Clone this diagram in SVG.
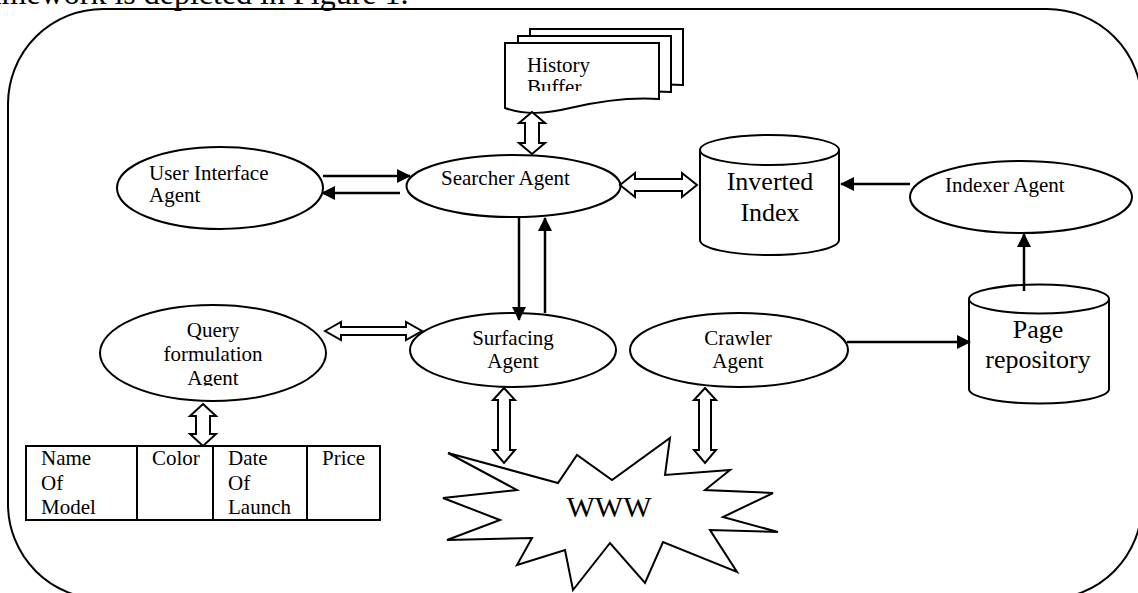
<svg xmlns="http://www.w3.org/2000/svg" width="1138" height="593" viewBox="0 0 1138 593">
<style>
text{font-family:"Liberation Serif","Times New Roman",serif;fill:#000}
.lbl{font-size:21px}
.big{font-size:26px}
.sh{fill:#fff;stroke:#000;stroke-width:2}
.ha{fill:#fff;stroke:#000;stroke-width:2;stroke-linejoin:miter}
.ar{stroke:#000;stroke-width:2.5;fill:none;marker-end:url(#ah)}
.c{text-anchor:middle}
</style>
<defs>
<marker id="ah" viewBox="0 0 14 14" refX="13" refY="7" markerWidth="14" markerHeight="14" markerUnits="userSpaceOnUse" orient="auto"><path d="M0,0 L14,7 L0,14 Z" fill="#000"/></marker>
<clipPath id="cBuf"><rect x="500" y="40" width="160" height="51"/></clipPath>
<clipPath id="cQry"><rect x="100" y="300" width="230" height="86"/></clipPath>
</defs>
<rect width="1138" height="593" fill="#fff"/>
<text x="-34" y="4" style="font-size:32px">framework is depicted in Figure 1.</text>
<rect id="frame" x="8" y="9" width="1134" height="590" rx="95" ry="95" fill="none" stroke="#000" stroke-width="2"/>

<g id="history-buffer">
<path class="sh" d="M530,29 H683 V85 C655,83 640,86 630,88 L530,88 Z"/>
<path class="sh" d="M518,36 H671 V92 C645,90 630,93 620,95 L518,95 Z"/>
<path class="sh" d="M505,43 H659 V99 C630,97 600,101 570,108 C545,114 525,115 505,108 Z"/>
<g clip-path="url(#cBuf)">
<text class="lbl" x="527" y="72">History</text>
<text class="lbl" x="527" y="94">Buffer</text>
</g>
</g>

<g id="user-interface-agent">
<ellipse class="sh" cx="220" cy="188" rx="103" ry="41"/>
<text class="lbl" x="149" y="180">User Interface</text>
<text class="lbl" x="149" y="202">Agent</text>
</g>

<g id="searcher-agent">
<ellipse class="sh" cx="513.5" cy="186" rx="107" ry="31"/>
<text class="lbl" x="441" y="185">Searcher Agent</text>
</g>

<g id="inverted-index">
<path class="sh" d="M700,150 V240 A69.5,15 0 0 0 839,240 V150"/>
<ellipse class="sh" cx="769.5" cy="150" rx="69.5" ry="15"/>
<text class="big c" x="770" y="190">Inverted</text>
<text class="big c" x="770" y="221">Index</text>
</g>

<g id="indexer-agent">
<ellipse class="sh" cx="1021" cy="197" rx="111" ry="36"/>
<text class="lbl" x="945" y="192">Indexer Agent</text>
</g>

<g id="page-repository">
<path class="sh" d="M969,299 V389 A70,14.5 0 0 0 1109,389 V299"/>
<ellipse class="sh" cx="1039" cy="299" rx="70" ry="14.5"/>
<text class="big c" x="1038" y="338">Page</text>
<text class="big c" x="1038" y="368">repository</text>
</g>

<g id="query-formulation-agent">
<ellipse class="sh" cx="213" cy="353" rx="113" ry="48"/>
<g clip-path="url(#cQry)">
<text class="lbl c" x="213" y="337">Query</text>
<text class="lbl c" x="213" y="361">formulation</text>
<text class="lbl c" x="213" y="385">Agent</text>
</g>
</g>

<g id="surfacing-agent">
<ellipse class="sh" cx="513" cy="350" rx="103" ry="37"/>
<text class="lbl c" x="513" y="345">Surfacing</text>
<text class="lbl c" x="513" y="368">Agent</text>
</g>

<g id="crawler-agent">
<ellipse class="sh" cx="739" cy="350" rx="109" ry="37"/>
<text class="lbl c" x="738" y="345">Crawler</text>
<text class="lbl c" x="738" y="368">Agent</text>
</g>

<g id="www">
<polygon class="sh" points="448,453 558,483 577,455 612,480 670,438 665,475 730,470 705,490 773,493 723,517 778,532 710,530 737,572 663,542 645,583 610,543 573,590 565,550 517,565 532,538 447,540 500,520 443,498 517,490"/>
<text class="c" x="609" y="517" style="font-size:30px">WWW</text>
</g>

<g id="product-table">
<rect x="26" y="446" width="354" height="74" fill="#fff" stroke="#000" stroke-width="2"/>
<path d="M137,446 V520 M213,446 V520 M307,446 V520" stroke="#000" stroke-width="2"/>
<text class="lbl" x="41" y="465">Name</text>
<text class="lbl" x="41" y="490">Of</text>
<text class="lbl" x="41" y="514">Model</text>
<text class="lbl" x="152" y="465">Color</text>
<text class="lbl" x="228" y="465">Date</text>
<text class="lbl" x="228" y="490">Of</text>
<text class="lbl" x="228" y="514">Launch</text>
<text class="lbl" x="322" y="465">Price</text>
</g>

<g id="connectors">
<polygon class="ha" points="532,112 545,123 539,123 539,143 545,143 532,154 519,143 525,143 525,123 519,123"/>
<polygon class="ha" points="620,185 635,173 635,179 682,179 682,173 697,185 682,197 682,191 635,191 635,197"/>
<polygon class="ha" points="325,331 341,322 341,327 406,327 406,322 422,331 406,340 406,335 341,335 341,340"/>
<polygon class="ha" points="203,404 216,416 210,416 210,434 216,434 203,446 190,434 196,434 196,416 190,416"/>
<polygon class="ha" points="504,388 515,400 510,400 510,450 515,450 504,463 493,450 498,450 498,400 493,400"/>
<polygon class="ha" points="705,388 716,400 711,400 711,450 716,450 705,463 694,450 699,450 699,400 694,400"/>
<line class="ar" x1="323" y1="176" x2="410" y2="176"/>
<line class="ar" x1="400" y1="193" x2="322" y2="193"/>
<line class="ar" x1="519" y1="217" x2="519" y2="320"/>
<line class="ar" x1="545" y1="313" x2="545" y2="218"/>
<line class="ar" x1="910" y1="184" x2="841" y2="184"/>
<line class="ar" x1="1024" y1="291" x2="1024" y2="234"/>
<line class="ar" x1="847" y1="342" x2="970" y2="342"/>
</g>
</svg>
